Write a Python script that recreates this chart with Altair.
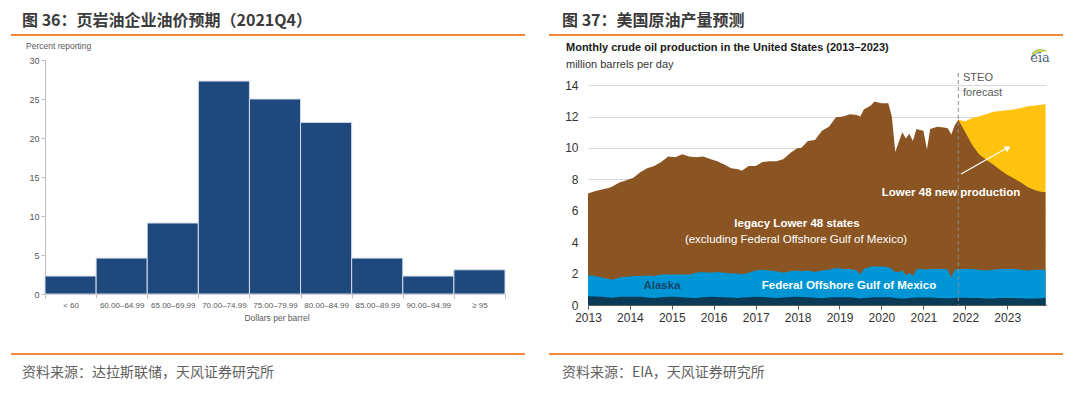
import altair as alt
import pandas as pd

SANS = "Liberation Sans, Arial, sans-serif"
CJK = "Noto Sans CJK SC, sans-serif"

# ---------------- Left panel data: shale firms' oil price expectations ----------------
price_bins = ["< 60", "60.00–64.99", "65.00–69.99", "70.00–74.99", "75.00–79.99",
              "80.00–84.99", "85.00–89.99", "90.00–94.99", "≥ 95"]
percent_reporting = [2.3, 4.6, 9.1, 27.3, 25.0, 22.0, 4.6, 2.3, 3.1]
left_y_ticks = [0, 5, 10, 15, 20, 25, 30]

# ---------------- Right panel data: US crude oil production (million b/d) ----------------
dates = ["2013-01-01", "2013-03-01", "2013-05-01", "2013-07-01", "2013-08-01", "2013-10-01", "2013-12-01",
         "2014-02-01", "2014-04-01", "2014-06-01", "2014-08-01", "2014-10-01", "2014-12-01",
         "2015-02-01", "2015-04-01", "2015-06-01", "2015-08-01", "2015-10-01", "2015-12-01",
         "2016-02-01", "2016-04-01", "2016-06-01", "2016-08-01", "2016-09-01", "2016-11-01",
         "2017-01-01", "2017-03-01", "2017-05-01", "2017-07-01", "2017-09-01", "2017-11-01",
         "2018-01-01", "2018-02-01", "2018-04-01", "2018-06-01", "2018-08-01", "2018-10-01", "2018-12-01",
         "2019-02-01", "2019-04-01", "2019-06-01", "2019-07-01", "2019-08-01", "2019-10-01", "2019-11-01",
         "2020-01-01", "2020-03-01", "2020-04-01", "2020-05-01", "2020-06-01", "2020-07-01", "2020-08-01",
         "2020-09-01", "2020-10-01", "2020-11-01", "2020-12-01",
         "2021-01-01", "2021-02-01", "2021-03-01", "2021-05-01", "2021-07-01", "2021-08-01", "2021-09-01",
         "2021-10-01", "2021-11-01",
         "2022-01-01", "2022-03-01", "2022-05-01", "2022-07-01", "2022-09-01", "2022-11-01",
         "2023-01-01", "2023-03-01", "2023-05-01", "2023-07-01", "2023-09-01", "2023-11-01", "2023-12-01"]
# top of all production (incl. new Lower 48 production in forecast)
total_top = [7.10, 7.25, 7.35, 7.45, 7.55, 7.80, 7.95,
             8.10, 8.45, 8.70, 8.85, 9.10, 9.45,
             9.40, 9.60, 9.45, 9.40, 9.45, 9.30,
             9.15, 8.95, 8.70, 8.65, 8.55, 8.85,
             8.85, 9.10, 9.15, 9.15, 9.30, 9.70,
             10.00, 10.00, 10.45, 10.50, 11.10, 11.35, 11.95,
             12.00, 12.15, 12.10, 12.00, 12.45, 12.70, 12.95,
             12.85, 12.85, 12.00, 9.75, 10.40, 11.00, 10.60,
             10.90, 10.45, 11.20, 11.15,
             11.10, 9.90, 11.20, 11.35, 11.30, 11.25, 10.85,
             11.45, 11.80,
             11.70, 11.90, 12.00, 12.15, 12.30, 12.35,
             12.40, 12.45, 12.55, 12.65, 12.70, 12.75, 12.80]
# top of legacy Lower 48 production
legacy_top = [7.10, 7.25, 7.35, 7.45, 7.55, 7.80, 7.95,
              8.10, 8.45, 8.70, 8.85, 9.10, 9.45,
              9.40, 9.60, 9.45, 9.40, 9.45, 9.30,
              9.15, 8.95, 8.70, 8.65, 8.55, 8.85,
              8.85, 9.10, 9.15, 9.15, 9.30, 9.70,
              10.00, 10.00, 10.45, 10.50, 11.10, 11.35, 11.95,
              12.00, 12.15, 12.10, 12.00, 12.45, 12.70, 12.95,
              12.85, 12.85, 12.00, 9.75, 10.40, 11.00, 10.60,
              10.90, 10.45, 11.20, 11.15,
              11.10, 9.90, 11.20, 11.35, 11.30, 11.25, 10.85,
              11.45, 11.80,
              11.00, 10.20, 9.60, 9.25, 8.95, 8.60,
              8.30, 8.05, 7.80, 7.50, 7.30, 7.20, 7.20]
# top of Federal Offshore Gulf of Mexico (stacked on Alaska)
gom_top = [1.90, 1.85, 1.75, 1.65, 1.60, 1.75, 1.80,
           1.85, 1.85, 1.88, 1.85, 1.95, 1.95,
           1.95, 1.95, 1.95, 2.05, 2.10, 2.05,
           2.10, 2.05, 2.00, 2.00, 1.95, 2.05,
           2.20, 2.25, 2.20, 2.15, 2.05, 2.15,
           2.20, 2.15, 2.20, 2.10, 2.20, 2.25, 2.35,
           2.30, 2.30, 2.20, 1.95, 2.30, 2.45, 2.45,
           2.45, 2.40, 2.30, 2.10, 2.10, 2.20, 1.90,
           2.05, 1.85, 2.25, 2.30,
           2.30, 2.25, 2.30, 2.30, 2.30, 2.25, 1.75,
           2.25, 2.30,
           2.30, 2.30, 2.25, 2.20, 2.25, 2.30,
           2.30, 2.30, 2.25, 2.20, 2.25, 2.25, 2.25]
# top of Alaska
alaska_top = [0.55, 0.54, 0.52, 0.47, 0.46, 0.52, 0.53,
              0.53, 0.52, 0.48, 0.44, 0.50, 0.52,
              0.52, 0.50, 0.46, 0.45, 0.50, 0.52,
              0.51, 0.50, 0.47, 0.45, 0.47, 0.50,
              0.52, 0.51, 0.48, 0.44, 0.47, 0.51,
              0.52, 0.51, 0.50, 0.46, 0.43, 0.47, 0.50,
              0.50, 0.49, 0.45, 0.42, 0.44, 0.48, 0.49,
              0.50, 0.49, 0.48, 0.44, 0.41, 0.42, 0.42,
              0.44, 0.46, 0.47, 0.47,
              0.48, 0.47, 0.47, 0.45, 0.43, 0.43, 0.43,
              0.45, 0.46,
              0.46, 0.45, 0.44, 0.41, 0.42, 0.45,
              0.45, 0.44, 0.43, 0.40, 0.41, 0.43, 0.44]
forecast_start = "2021-11-01"
right_y_ticks = [0, 2, 4, 6, 8, 10, 12, 14]
year_ticks = list(range(2013, 2024))

# ---------------- Left panel ----------------
bar_df = pd.DataFrame({"bin": price_bins, "pct": percent_reporting})

bars = alt.Chart(bar_df).mark_bar(color="#1f497d", stroke="#d5dce7", strokeWidth=1).encode(
    x=alt.X("bin:N", sort=price_bins,
            scale=alt.Scale(paddingInner=0, paddingOuter=0),
            axis=alt.Axis(title=None, labelAngle=0, tickBand="extent", domainColor="#bfbfbf",
                          tickColor="#bfbfbf", tickSize=4, labelColor="#595959", labelFont=SANS,
                          labelFontSize=8, labelPadding=3, labelOverlap=False)),
    y=alt.Y("pct:Q", scale=alt.Scale(domain=[0, 30], nice=False),
            axis=alt.Axis(title=None, values=left_y_ticks, grid=False, domainColor="#bfbfbf",
                          tickColor="#bfbfbf", tickSize=4, labelColor="#595959", labelFont=SANS,
                          labelFontSize=9, labelPadding=2, labelOverlap=False)),
)


def txt(df_text, **kw):
    return alt.Chart(df_text).mark_text(**kw).encode(text="t:N")


one = lambda s: pd.DataFrame({"t": [s]})

left_title = txt(one("图 36：页岩油企业油价预期（2021Q4）"), align="left", baseline="middle",
                 font=CJK, fontSize=16, fontWeight="bold", color="#3b3b3b").encode(
    x=alt.value(-23), y=alt.value(-39.5))
left_source = txt(one("资料来源：达拉斯联储，天风证券研究所"), align="left", baseline="middle",
                  font=CJK, fontSize=14, color="#5f5f5f").encode(x=alt.value(-23), y=alt.value(313))
left_ylab = txt(one("Percent reporting"), align="left", baseline="middle", font=SANS,
                fontSize=8.5, color="#595959").encode(x=alt.value(-19), y=alt.value(-14))
left_xlab = txt(one("Dollars per barrel"), align="center", baseline="middle", font=SANS,
                fontSize=8.5, color="#595959").encode(x=alt.value(232), y=alt.value(258))

rule_src = pd.DataFrame({"k": [0]})
left_lines = alt.layer(
    alt.Chart(rule_src).mark_rule(color="#f0883a", strokeWidth=2).encode(
        x=alt.value(-34), x2=alt.value(480), y=alt.value(-25)),
    alt.Chart(rule_src).mark_rule(color="#f0883a", strokeWidth=2).encode(
        x=alt.value(-34), x2=alt.value(480), y=alt.value(294)),
    alt.Chart(rule_src).mark_rule(opacity=0, strokeWidth=0.01).encode(
        x=alt.value(-37), y=alt.value(-52), y2=alt.value(327)),
)

left = alt.layer(bars, left_lines, left_title, left_source, left_ylab, left_xlab).properties(
    width=460, height=234)

# ---------------- Right panel ----------------
prod = pd.DataFrame({"date": dates, "total": total_top, "legacy": legacy_top,
                     "gom": gom_top, "alaska": alaska_top})
fc = prod[prod["date"] >= forecast_start]

xscale = alt.Scale(domain=["2013-01-01", "2023-12-05"])
xaxis = alt.Axis(title=None, values=[alt.DateTime(year=y, month=1, date=1) for y in year_ticks],
                 format="%Y", grid=False, domainColor="#555555", tickColor="#555555",
                 tickSize=4, labelColor="#333333", labelFont=SANS, labelFontSize=12,
                 labelPadding=3, labelOverlap=False, labelFlush=False)
yscale = alt.Scale(domain=[0, 15.6], nice=False)
yaxis = alt.Axis(title=None, values=right_y_ticks, grid=True, gridColor="#d9d9d9", domain=False,
                 ticks=False, labelColor="#333333", labelFont=SANS, labelFontSize=12, labelPadding=10,
                 labelOverlap=False)


def X(field):
    return alt.X(field, type="temporal", scale=xscale, axis=xaxis)


def Y(field):
    return alt.Y(field, type="quantitative", scale=yscale, axis=yaxis)


area_new = alt.Chart(fc).mark_area(color="#ffc20e").encode(x=X("date"), y=Y("total"))
area_legacy = alt.Chart(prod).mark_area(color="#8b5523").encode(x=X("date"), y=Y("legacy"))
area_gom = alt.Chart(prod).mark_area(color="#0096d6").encode(x=X("date"), y=Y("gom"))
area_alaska = alt.Chart(prod).mark_area(color="#0b3a57").encode(x=X("date"), y=Y("alaska"))

fc_line = alt.Chart(pd.DataFrame({"date": [forecast_start]})).mark_rule(
    color="#8c8c8c", strokeDash=[4, 3], strokeWidth=1).encode(
    x=X("date"), y=alt.value(13), y2=alt.value(245))

arrow_line = alt.Chart(rule_src).mark_rule(color="white", strokeWidth=1.3).encode(
    x=alt.value(373), y=alt.value(114), x2=alt.value(419), y2=alt.value(88))
arrow_head = alt.Chart(rule_src).mark_point(shape="triangle-up", filled=True, color="white",
                                            size=45, angle=61, opacity=1).encode(
    x=alt.value(420), y=alt.value(88))

r_title = txt(one("图 37：美国原油产量预测"), align="left", baseline="middle", font=CJK, fontSize=16,
              fontWeight="bold", color="#3b3b3b").encode(x=alt.value(-26), y=alt.value(-39.5))
r_source = txt(one("资料来源：EIA，天风证券研究所"), align="left", baseline="middle", font=CJK,
               fontSize=14, color="#5f5f5f").encode(x=alt.value(-26), y=alt.value(313))
r_head = txt(one("Monthly crude oil production in the United States (2013–2023)"), align="left",
             baseline="middle", font=SANS, fontSize=11, fontWeight="bold", color="#1a1a1a").encode(
    x=alt.value(-22), y=alt.value(-12))
r_unit = txt(one("million barrels per day"), align="left", baseline="middle", font=SANS,
             fontSize=11, color="#333333").encode(x=alt.value(-22), y=alt.value(5))
r_steo = txt(one("STEO"), align="left", baseline="middle", font=SANS, fontSize=11,
             color="#595959").encode(x=alt.value(375), y=alt.value(18))
r_fcst = txt(one("forecast"), align="left", baseline="middle", font=SANS, fontSize=11,
             color="#595959").encode(x=alt.value(375), y=alt.value(33))
r_legacy1 = txt(one("legacy Lower 48 states"), align="center", baseline="middle", font=SANS,
                fontSize=11.5, fontWeight="bold", color="white").encode(x=alt.value(209), y=alt.value(164))
r_legacy2 = txt(one("(excluding Federal  Offshore Gulf of Mexico)"), align="center", baseline="middle",
                font=SANS, fontSize=11.5, color="white").encode(x=alt.value(208), y=alt.value(180))
r_new = txt(one("Lower 48 new production"), align="center", baseline="middle", font=SANS,
            fontSize=11.5, fontWeight="bold", color="white").encode(x=alt.value(363), y=alt.value(133))
r_gom = txt(one("Federal Offshore Gulf of Mexico"), align="center", baseline="middle", font=SANS,
            fontSize=11.5, fontWeight="bold", color="white").encode(x=alt.value(261), y=alt.value(226))
r_alaska = txt(one("Alaska"), align="center", baseline="middle", font=SANS, fontSize=11.5,
               fontWeight="bold", color="#17456a").encode(x=alt.value(74), y=alt.value(226))
r_eia = txt(one("eia"), align="center", baseline="middle", font="DejaVu Serif, Liberation Serif, serif",
            fontSize=13, color="#4d5f72").encode(x=alt.value(452), y=alt.value(-2))

logo_src = pd.DataFrame({"k": [0]})
eia_arcs = alt.layer(
    alt.Chart(logo_src).mark_arc(color="#8cc63f").encode(
        x=alt.value(453), y=alt.value(3), theta=alt.value(5.5), theta2=alt.value(6.7),
        radius=alt.value(13.5), radius2=alt.value(12.3)),
    alt.Chart(logo_src).mark_arc(color="#ffc20e").encode(
        x=alt.value(453), y=alt.value(3), theta=alt.value(5.4), theta2=alt.value(6.5),
        radius=alt.value(12.3), radius2=alt.value(11.1)),
    alt.Chart(logo_src).mark_arc(color="#3aa0da").encode(
        x=alt.value(453), y=alt.value(3), theta=alt.value(5.3), theta2=alt.value(6.3),
        radius=alt.value(11.1), radius2=alt.value(9.9)),
)

right_lines = alt.layer(
    alt.Chart(rule_src).mark_rule(color="#f0883a", strokeWidth=2).encode(
        x=alt.value(-39), x2=alt.value(475), y=alt.value(-25)),
    alt.Chart(rule_src).mark_rule(color="#f0883a", strokeWidth=2).encode(
        x=alt.value(-39), x2=alt.value(475), y=alt.value(294)),
    alt.Chart(rule_src).mark_rule(opacity=0, strokeWidth=0.01).encode(
        x=alt.value(484), y=alt.value(-52), y2=alt.value(327)),
)

right = alt.layer(area_new, area_legacy, area_gom, area_alaska, fc_line, arrow_line, arrow_head,
                  r_legacy1, r_legacy2, r_new, r_gom, r_alaska, r_steo, r_fcst,
                  r_title, r_source, r_head, r_unit, eia_arcs, r_eia, right_lines).properties(
    width=458, height=245)

chart = alt.hconcat(left, right, spacing=83, bounds="flush", padding=0).configure_view(stroke=None)

chart.save("out.html", embed_options={"renderer": "svg", "actions": False})
